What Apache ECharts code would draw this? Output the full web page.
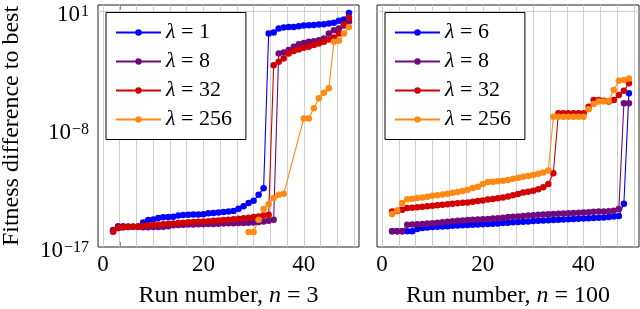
<!DOCTYPE html>
<html>
<head>
<meta charset="utf-8">
<script src="https://cdn.jsdelivr.net/npm/echarts@6/dist/echarts.min.js"></script>
<style>
html,body{margin:0;padding:0;background:#fff;}
#chart{width:640px;height:309px;}
</style>
</head>
<body>
<div id="chart"></div>
<script>
// ---------------- data ----------------
const runs = [2,3,4,5,6,7,8,9,10,11,12,13,14,15,16,17,18,19,20,21,22,23,24,25,
              26,27,28,29,30,31,32,33,34,35,36,37,38,39,40,41,42,43,44,45,46,47,48,49];

const leftNames  = ['λ = 1', 'λ = 8', 'λ = 32', 'λ = 256'];
const rightNames = ['λ = 6', 'λ = 8', 'λ = 32', 'λ = 256'];

// log10 of fitness difference to best, one entry per run in `runs`
const leftBlueLog = [-15.81,-15.55,-15.5,-15.48,-15.46,-15.43,
  -15.13,-14.95,-14.9,-14.78,-14.74,-14.72,-14.7,-14.6,-14.56,-14.54,-14.53,-14.52,-14.5,
  -14.42,-14.4,-14.37,-14.33,-14.3,-14.26,-14.09,-13.9,-13.65,-13.48,-13.02,-12.51,
  -0.72,-0.64,-0.34,-0.26,-0.21,-0.21,-0.16,-0.11,-0.08,-0.06,-0.03,-0.01,0.05,0.1,0.25,0.35,0.85];
const leftPurpleLog = [-15.7,-15.42,-15.42,-15.43,-15.45,-15.47,
  -15.5,-15.5,-15.48,-15.47,-15.45,-15.42,-15.35,-15.32,-15.3,-15.29,-15.28,-15.27,-15.26,
  -15.25,-15.24,-15.22,-15.2,-15.19,-15.18,-15.17,-15.16,-15.15,-15.13,-15.1,-15.05,-15.0,-14.92,
  -2.24,-2.16,-1.98,-1.73,-1.53,-1.43,-1.35,-1.30,-1.22,-1.10,-0.72,-0.46,-0.34,-0.1,0.2];
const leftRedLog = [-15.81,-15.55,-15.5,-15.48,-15.46,-15.43,
  -15.38,-15.35,-15.32,-15.29,-15.26,-15.23,-15.2,-15.17,-15.15,-15.12,-15.1,-15.07,-15.05,
  -15.03,-15.0,-14.98,-14.95,-14.93,-14.88,-14.84,-14.8,-14.76,-14.72,-14.67,-14.6,-14.54,
  -3.13,-2.87,-2.62,-2.24,-2.04,-1.93,-1.81,-1.73,-1.60,-1.48,-1.35,-1.17,-1.02,-0.72,0.0,0.5];
const leftOrangeRuns = [29,30,31,32,33,34,35,36,40,41,42,43,44,45,46,47,48,49];
const leftOrangeLog = [-15.86,-15.86,-14.92,-14.11,-13.73,-13.27,-13.02,-12.94,
  -7.19,-7.19,-6.42,-5.66,-5.23,-4.9,-1.35,-1.27,-0.72,-0.21];

const rightBlueLog = [-15.8,-15.8,-15.8,-15.8,-15.8,-15.63,-15.55,-15.52,-15.48,
  -15.45,-15.43,-15.41,-15.38,-15.36,-15.34,-15.32,-15.3,-15.28,-15.26,
  -15.24,-15.22,-15.2,-15.17,-15.15,-15.12,-15.1,-15.07,-15.05,-15.02,
  -15.0,-14.98,-14.96,-14.94,-14.92,-14.9,-14.88,-14.86,-14.84,-14.82,
  -14.8,-14.78,-14.76,-14.75,-14.72,-14.68,-14.63,-13.7,-5.28];
const rightPurpleLog = [-15.8,-15.8,-15.8,-15.3,-15.28,-15.27,-15.24,-15.21,-15.18,
  -15.15,-15.12,-15.08,-15.04,-15.0,-14.98,-14.95,-14.92,-14.9,-14.88,
  -14.86,-14.83,-14.8,-14.76,-14.72,-14.7,-14.67,-14.64,-14.6,-14.57,
  -14.54,-14.52,-14.5,-14.48,-14.46,-14.44,-14.42,-14.4,-14.38,-14.36,
  -14.34,-14.32,-14.3,-14.29,-14.27,-14.24,-14.11,-6.04,-6.04];
const rightRedLog = [-14.3,-14.25,-14.15,-14.03,-14.0,-13.97,-13.93,-13.9,-13.86,
  -13.82,-13.78,-13.74,-13.7,-13.66,-13.63,-13.6,-13.55,-13.5,-13.45,
  -13.38,-13.33,-13.28,-13.22,-13.15,-13.05,-12.95,-12.85,-12.78,-12.7,
  -12.6,-12.45,-12.2,-11.37,-6.8,-6.8,-6.8,-6.8,-6.8,-6.8,
  -6.3,-5.79,-5.79,-5.85,-5.9,-5.79,-5.41,-5.08,-4.5];
const rightOrangeLog = [-14.49,-14.21,-13.65,-13.35,-13.32,-13.27,-13.22,-13.17,-13.1,
  -13.05,-13.0,-12.94,-12.87,-12.8,-12.72,-12.63,-12.5,-12.4,-12.2,
  -12.05,-12.02,-11.98,-11.94,-11.88,-11.8,-11.72,-11.65,-11.58,-11.5,
  -11.42,-11.32,-11.17,-7.06,-7.06,-7.06,-7.06,-7.06,-7.06,-7.06,
  -6.5,-6.1,-5.9,-5.9,-5.85,-5.03,-4.32,-4.27,-4.14];

// axis ticks
const xTickLabels = [0, 20, 40];
const yTickExponents = [-17, -8, 1];
const xAxisTitles = ['Run number, {i|n} = 3', 'Run number, {i|n} = 100'];
const yAxisTitle = 'Fitness difference to best';

// ---------------- styling ----------------
const FONT = "'Liberation Serif','DejaVu Serif',serif";
const colors = ['#0000ff', '#700a7d', '#d20000', '#ff8a14'];
const xMin = -1, xMax = 51;
const yMin = 1e-17, yMax = 28.8;
const xMinorStep = 20 / 6;
const xGridValues = Array.from({length: 16}, (_, k) => k * xMinorStep);
const yGridValues = [1e-8, 10];
const gridLineColor = '#cfcfcf';

const toPairs = (xs, logs) => xs.map((x, i) => [x, Math.pow(10, logs[i])]);

function makeSeries(name, xs, logs, color, gi) {
  return {
    type: 'line', name, xAxisIndex: gi * 2, yAxisIndex: gi,
    data: toPairs(xs, logs),
    symbol: 'circle', symbolSize: 6.5, showSymbol: true,
    lineStyle: {color, width: 1.1}, itemStyle: {color},
    emphasis: {disabled: true}, animation: false, z: 3
  };
}

function gridCarrier(gi) {
  return {
    type: 'line', xAxisIndex: gi * 2, yAxisIndex: gi, data: [], silent: true, z: 1,
    markLine: {
      silent: true, symbol: 'none', animation: false, z: 1,
      label: {show: false}, emphasis: {disabled: true},
      lineStyle: {color: gridLineColor, width: 1, type: 'solid'},
      data: xGridValues.map(v => ({xAxis: v})).concat(yGridValues.map(v => ({yAxis: v})))
    }
  };
}

function xAxesFor(gi, title) {
  const tickStyle = {show: true, inside: true, length: 5, customValues: xGridValues,
                     lineStyle: {color: '#8a8a8a', width: 1}};
  return [{
    type: 'value', gridIndex: gi, min: xMin, max: xMax, position: 'bottom',
    axisLine: {show: false}, splitLine: {show: false},
    axisTick: tickStyle,
    axisLabel: {customValues: xTickLabels, margin: 6, color: '#000', fontFamily: FONT, fontSize: 23},
    name: title, nameLocation: 'middle', nameGap: 37,
    nameTextStyle: {color: '#000', fontFamily: FONT, fontSize: 24,
                    rich: {i: {fontStyle: 'italic', fontFamily: FONT, fontSize: 24, color: '#000'}}}
  }, {
    type: 'value', gridIndex: gi, min: xMin, max: xMax, position: 'top',
    axisLine: {show: false}, splitLine: {show: false},
    axisTick: tickStyle, axisLabel: {show: false}
  }];
}

function yAxisFor(gi, showLabels) {
  const ax = {
    type: 'log', logBase: 10, gridIndex: gi, min: yMin, max: yMax, interval: 1,
    axisLine: {show: false}, axisTick: {show: false}, splitLine: {show: false},
    minorTick: {show: false}, minorSplitLine: {show: false},
    axisLabel: {
      show: showLabels, margin: 9, color: '#000', fontFamily: FONT, fontSize: 23,
      showMinLabel: true, showMaxLabel: false, padding: [8, 0, 0, 0],
      formatter: function (v) {
        const l = Math.log10(v);
        const e = Math.round(l);
        if (Math.abs(l - e) > 1e-6 || yTickExponents.indexOf(e) < 0) return '';
        return '{b|10}{s|' + (e < 0 ? '\u2212' : '') + Math.abs(e) + '}';
      },
      rich: {
        b: {fontFamily: FONT, fontSize: 23, lineHeight: 23, color: '#000', verticalAlign: 'bottom'},
        s: {fontFamily: FONT, fontSize: 16, lineHeight: 16, color: '#000', verticalAlign: 'top', padding: [0, 0, 12, 1]}
      }
    }
  };
  if (showLabels) {
    ax.name = yAxisTitle;
    ax.nameLocation = 'middle';
    ax.nameGap = 74;
    ax.nameTextStyle = {color: '#000', fontFamily: FONT, fontSize: 24};
  }
  return ax;
}

function legendFor(names, left) {
  return {
    data: names, orient: 'vertical', left: left, top: 12.5,
    padding: [9, 14, 9, 9], itemGap: 7, itemWidth: 45, itemHeight: 8,
    backgroundColor: '#fff', borderColor: '#000', borderWidth: 1, borderRadius: 0,
    selectedMode: false,
    formatter: n => n.replace('λ', '{i|λ}'),
    textStyle: {color: '#000', fontFamily: FONT, fontSize: 22, lineHeight: 22,
                rich: {i: {fontStyle: 'italic', fontFamily: FONT, fontSize: 22, lineHeight: 22, color: '#000'}}}
  };
}

const gridBase = {show: true, borderColor: '#222', borderWidth: 1, backgroundColor: 'transparent',
                  containLabel: false, outerBoundsMode: 'none'};

const option = {
  animation: false,
  backgroundColor: '#fff',
  grid: [
    Object.assign({left: 98, top: 5, width: 261, height: 242}, gridBase),
    Object.assign({left: 377, top: 5, width: 262, height: 242}, gridBase)
  ],
  xAxis: xAxesFor(0, xAxisTitles[0]).concat(xAxesFor(1, xAxisTitles[1])),
  yAxis: [yAxisFor(0, true), yAxisFor(1, false)],
  legend: [legendFor(leftNames, 106), legendFor(rightNames, 385)],
  series: [
    gridCarrier(0), gridCarrier(1),
    makeSeries(leftNames[0], runs, leftBlueLog, colors[0], 0),
    makeSeries(leftNames[1], runs, leftPurpleLog, colors[1], 0),
    makeSeries(leftNames[2], runs, leftRedLog, colors[2], 0),
    makeSeries(leftNames[3], leftOrangeRuns, leftOrangeLog, colors[3], 0),
    makeSeries(rightNames[0], runs, rightBlueLog, colors[0], 1),
    makeSeries(rightNames[1], runs, rightPurpleLog, colors[1], 1),
    makeSeries(rightNames[2], runs, rightRedLog, colors[2], 1),
    makeSeries(rightNames[3], runs, rightOrangeLog, colors[3], 1)
  ]
};

const chart = echarts.init(document.getElementById('chart'), null, {renderer: 'canvas'});
chart.setOption(option);
</script>
</body>
</html>
